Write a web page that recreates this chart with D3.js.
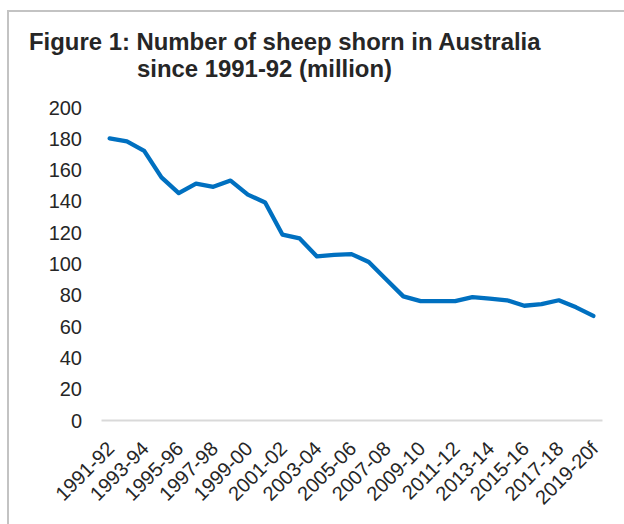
<!DOCTYPE html>
<html>
<head>
<meta charset="utf-8">
<script src="https://cdn.jsdelivr.net/npm/d3@7"></script>
<style>
  html, body { margin: 0; padding: 0; background: #fff; }
  svg { display: block; font-family: "Liberation Sans", Arial, sans-serif; }
</style>
</head>
<body>
<svg id="chart" width="624" height="524"></svg>
<script>
const categories = ["1991-92","1992-93","1993-94","1994-95","1995-96","1996-97","1997-98","1998-99","1999-00","2000-01","2001-02","2002-03","2003-04","2004-05","2005-06","2006-07","2007-08","2008-09","2009-10","2010-11","2011-12","2012-13","2013-14","2014-15","2015-16","2016-17","2017-18","2018-19","2019-20f"];
const sheepShorn = [180,178,172,155,145,151,149,153,144,139,118.5,116,104.5,105.5,106,101,90,79,76,76,76,78.5,77.5,76.5,73,74,76.5,72,66.5];
const yTicks = [0,20,40,60,80,100,120,140,160,180,200];
const titleLines = ["Figure 1: Number of sheep shorn in Australia", "since 1991-92 (million)"];

const svg = d3.select("#chart");

// frame
svg.append("path")
  .attr("d", "M8,524 L8,11 L624,11")
  .attr("fill", "none")
  .attr("stroke", "#c3c3c3")
  .attr("stroke-width", 2);

// title
const title = svg.append("text")
  .attr("font-weight", "bold")
  .attr("font-size", 23.9)
  .attr("fill", "#262626");
title.append("tspan").attr("x", 29).attr("y", 50).text(titleLines[0]);
title.append("tspan").attr("x", 137).attr("y", 77).text(titleLines[1]);

const x = d3.scaleBand().domain(categories).range([101, 602]);
const y = d3.scaleLinear().domain([0, 200]).range([420, 107]);

// y axis labels
const yAxis = d3.axisLeft(y).tickValues(yTicks).tickSize(0).tickPadding(0);
const yg = svg.append("g").attr("transform", "translate(82,0)").call(yAxis);
yg.select(".domain").remove();
yg.selectAll("text")
  .attr("font-size", 20)
  .attr("font-family", "'Liberation Sans', Arial, sans-serif")
  .attr("fill", "#262626")
  .attr("dy", "0.35em");

// x axis
const xAxis = d3.axisBottom(x)
  .tickValues(categories.filter((d, i) => i % 2 === 0))
  .tickSize(0).tickPadding(0);
const xg = svg.append("g").attr("transform", "translate(0,420)").call(xAxis);
xg.select(".domain")
  .attr("stroke", "#d9d9d9")
  .attr("stroke-width", 2);
xg.selectAll("text")
  .attr("font-size", 20)
  .attr("font-family", "'Liberation Sans', Arial, sans-serif")
  .attr("fill", "#262626")
  .attr("text-anchor", "end")
  .attr("dy", 0)
  .attr("y", 0)
  .attr("transform", "translate(6,30) rotate(-45)");

// line
const line = d3.line()
  .x((d, i) => x(categories[i]) + x.bandwidth() / 2)
  .y(d => y(d));
svg.append("path")
  .datum(sheepShorn)
  .attr("fill", "none")
  .attr("stroke", "#0070c0")
  .attr("stroke-width", 4.3)
  .attr("stroke-linejoin", "round")
  .attr("stroke-linecap", "round")
  .attr("d", line);
</script>
</body>
</html>
